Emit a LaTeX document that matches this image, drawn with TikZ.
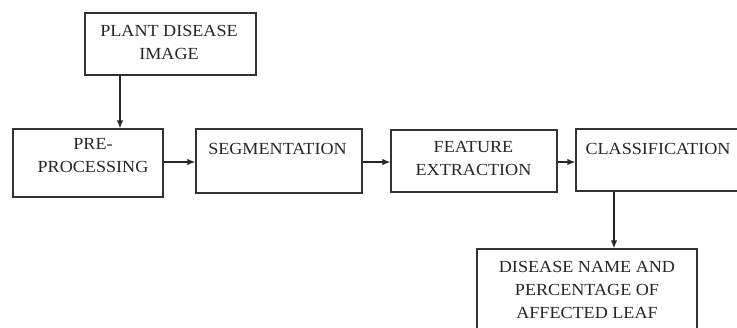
\documentclass[tikz,border=0pt]{standalone}
\usepackage{fontspec}
\setmainfont{Liberation Serif}[FakeStretch=1.07]
\usetikzlibrary{arrows.meta}
\begin{document}
\begin{tikzpicture}[x=1bp, y=-1bp,
  box/.style={draw=black!80, line width=1.3bp, inner sep=0pt},
  lbl/.style={anchor=north, inner sep=0pt, align=center, text=black!85,
    font=\fontsize{17}{23}\selectfont},
  arr/.style={draw=black!85, line width=1.3bp, -{Latex[length=8bp,width=6.5bp]}}]
\useasboundingbox (0,0) rectangle (737,327);
\clip (0,0) rectangle (737,327);
\fill[white] (0,0) rectangle (737,327);

% process boxes
\node[box, minimum width=171bp, minimum height=62bp] (img)  at (170.5,44) {};
\node[box, minimum width=150bp, minimum height=68bp] (pre)  at (88,163) {};
\node[box, minimum width=166bp, minimum height=64bp] (seg)  at (279,161) {};
\node[box, minimum width=166bp, minimum height=62bp] (feat) at (474,161) {};
\node[box, minimum width=164bp, minimum height=62bp] (cls)  at (658,160) {};
\node[box, minimum width=220bp, minimum height=92bp] (out)  at (587,295) {};

% box captions, set near the top edge
\node[lbl] (timg)  at (169,25.5)  {PLANT DISEASE\\IMAGE};
\node[lbl] (tpre)  at (93,138.5)  {PRE-\\PROCESSING};
\node[lbl] (tseg)  at (277.5,143) {SEGMENTATION};
\node[lbl] (tfeat) at (473.5,141.5) {FEATURE\\EXTRACTION};
\node[lbl] (tcls)  at (658,143)   {CLASSIFICATION};
\node[lbl] (tout)  at (587,261)   {DISEASE NAME AND\\PERCENTAGE OF\\AFFECTED LEAF};

% connector guides
\coordinate (vin)  at (120,0);
\coordinate (vout) at (614,0);
\coordinate (hrow) at (0,162);

% connectors
\draw[arr] (vin |- img.south) -- (vin |- pre.north);
\draw[arr] (pre.east |- hrow) -- (seg.west |- hrow);
\draw[arr] (seg.east |- hrow) -- (feat.west |- hrow);
\draw[arr] (feat.east |- hrow) -- (cls.west |- hrow);
\draw[arr] (vout |- cls.south) -- (vout |- out.north);
\end{tikzpicture}
\end{document}
